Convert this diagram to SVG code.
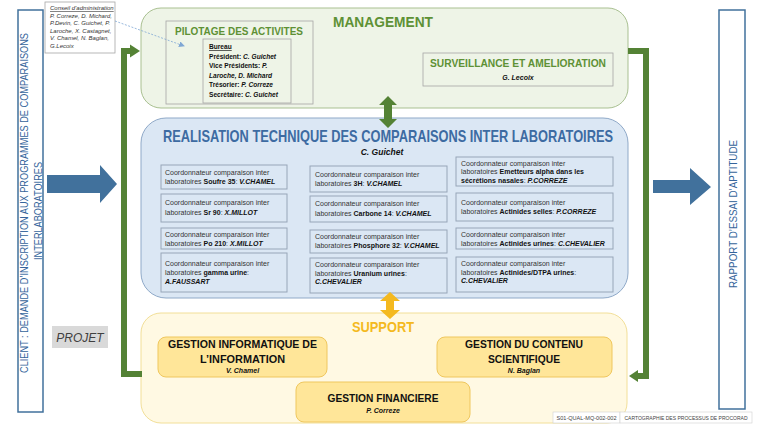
<svg xmlns="http://www.w3.org/2000/svg" width="757" height="426" viewBox="0 0 757 426">
<defs>
<style>
text{font-family:"Liberation Sans",Arial,sans-serif}
.cell{fill:#dbe7f4;stroke:#97a6b8;stroke-width:1}
.ct{font-size:7px;fill:#333}
.b{font-weight:bold;fill:#111}
.bi{font-weight:bold;font-style:italic;fill:#111}
.gb{fill:#ffe699;stroke:#efc75e;stroke-width:1}
.gt{font-size:11px;font-weight:bold;fill:#111;text-anchor:middle}
.gn{font-size:7px;font-weight:bold;font-style:italic;fill:#111;text-anchor:middle}
.grn{fill:none;stroke:#548235;stroke-width:6}
.side{fill:#fff;stroke:#41719c;stroke-width:1.5}
.sidet{font-size:10px;fill:#35659b;text-anchor:middle}
.bur{font-size:6.6px;font-weight:bold;fill:#111}
.con{font-size:6px;font-style:italic;fill:#333}
.ft{font-size:4.8px;fill:#444}
</style>
<marker id="dash-arrow" markerWidth="6" markerHeight="6" refX="5" refY="3" orient="auto" markerUnits="userSpaceOnUse">
<path d="M0,0 L6,3 L0,6 z" fill="#7fa7d4"/>
</marker>
</defs>
<rect width="757" height="426" fill="#fff"/>

<g id="client">
<rect class="side" x="18" y="10" width="25" height="402"/>
<text class="sidet" transform="translate(28,203) rotate(-90)" textLength="340" lengthAdjust="spacingAndGlyphs">CLIENT : DEMANDE D’INSCRIPTION AUX PROGRAMMES DE COMPARAISONS</text>
<text class="sidet" transform="translate(41.5,211) rotate(-90)" textLength="98" lengthAdjust="spacingAndGlyphs">INTERLABORATOIRES</text>
</g>

<g id="rapport">
<rect class="side" x="719" y="10" width="26" height="399"/>
<text class="sidet" transform="translate(736.5,214) rotate(-90)" textLength="148" lengthAdjust="spacingAndGlyphs">RAPPORT D’ESSAI D’APTITUDE</text>
</g>

<g id="conseil">
<rect x="45" y="2" width="70" height="51" fill="#fff" stroke="#a6a6a6" stroke-width="0.8"/>
<text class="con" x="50" y="10" text-decoration="underline">Conseil d’administration</text>
<text class="con" x="50" y="17.5"> P. Correze, D. Michard,</text>
<text class="con" x="50" y="25">P.Devin, C. Guichet, P.</text>
<text class="con" x="50" y="32.5">Laroche, X. Castagnet,</text>
<text class="con" x="50" y="40">V. Chamel, N. Baglan,</text>
<text class="con" x="50" y="47.5">G.Lecoix</text>
</g>

<g id="projet">
<rect x="52" y="326" width="56" height="22" fill="#d9d9d9"/>
<text x="80" y="342" font-size="12" font-style="italic" fill="#404040" text-anchor="middle">PROJET</text>
</g>

<g id="management">
<rect x="141" y="8" width="487" height="100" rx="20" fill="#eef4e7" stroke="#a9c091" stroke-width="1"/>
<text x="383" y="27" font-size="14" font-weight="bold" fill="#5e9135" text-anchor="middle" textLength="100" lengthAdjust="spacingAndGlyphs">MANAGEMENT</text>
</g>

<g id="pilotage">
<rect x="166" y="21" width="147" height="83" fill="none" stroke="#a6a6a6" stroke-width="0.8"/>
<text x="239" y="35" font-size="11" font-weight="bold" fill="#5e9135" text-anchor="middle" textLength="128" lengthAdjust="spacingAndGlyphs">PILOTAGE DES ACTIVITES</text>
<rect x="203" y="39" width="88" height="64" fill="none" stroke="#a6a6a6" stroke-width="0.8"/>
<text class="bur" x="209" y="49" text-decoration="underline">Bureau</text>
<text class="bur" x="209" y="58.5">Président: <tspan font-style="italic">C. Guichet</tspan></text>
<text class="bur" x="209" y="68">Vice Présidents: <tspan font-style="italic">P.</tspan></text>
<text class="bur" x="209" y="77.5" font-style="italic">Laroche, D. Michard</text>
<text class="bur" x="209" y="87">Trésorier: <tspan font-style="italic">P. Correze</tspan></text>
<text class="bur" x="209" y="96.5">Secrétaire: <tspan font-style="italic">C. Guichet</tspan></text>
</g>

<g id="surveillance">
<rect x="423" y="53" width="190" height="33" fill="none" stroke="#a6a6a6" stroke-width="0.8"/>
<text x="518" y="67" font-size="11" font-weight="bold" fill="#5e9135" text-anchor="middle" textLength="176" lengthAdjust="spacingAndGlyphs">SURVEILLANCE ET AMELIORATION</text>
<text x="518" y="79.5" font-size="7" font-weight="bold" font-style="italic" fill="#111" text-anchor="middle">G. Lecoix</text>
</g>

<g id="realisation">
<rect x="141" y="118" width="487" height="180" rx="25" fill="#dbe7f4" stroke="#8fa9c8" stroke-width="1"/>
<text x="388" y="142" font-size="16.5" font-weight="bold" fill="#3d6ba2" text-anchor="middle" textLength="450" lengthAdjust="spacingAndGlyphs">REALISATION TECHNIQUE DES COMPARAISONS INTER LABORATOIRES</text>
<text x="382" y="155" font-size="8.5" font-weight="bold" font-style="italic" fill="#111" text-anchor="middle">C. Guichet</text>
</g>

<g id="cells">
<g id="c-soufre"><rect class="cell" x="161" y="165" width="126" height="24"/>
<text class="ct" x="165" y="175">Coordonnateur comparaison inter</text>
<text class="ct" x="165" y="184">laboratoires <tspan class="b">Soufre 35</tspan>: <tspan class="bi">V.CHAMEL</tspan></text></g>
<g id="c-sr90"><rect class="cell" x="161" y="194" width="126" height="28"/>
<text class="ct" x="165" y="205">Coordonnateur comparaison inter</text>
<text class="ct" x="165" y="215">laboratoires <tspan class="b">Sr 90</tspan>: <tspan class="bi">X.MILLOT</tspan></text></g>
<g id="c-po210"><rect class="cell" x="161" y="228" width="126" height="21"/>
<text class="ct" x="165" y="237">Coordonnateur comparaison inter</text>
<text class="ct" x="165" y="246">laboratoires <tspan class="b">Po 210</tspan>: <tspan class="bi">X.MILLOT</tspan></text></g>
<g id="c-gamma"><rect class="cell" x="161" y="253" width="126" height="39"/>
<text class="ct" x="165" y="266">Coordonnateur comparaison inter</text>
<text class="ct" x="165" y="275">laboratoires <tspan class="b">gamma urine</tspan>:</text>
<text class="ct" x="165" y="284"><tspan class="bi">A.FAUSSART</tspan></text></g>

<g id="c-3h"><rect class="cell" x="310" y="166" width="137" height="26"/>
<text class="ct" x="315" y="177">Coordonnateur comparaison inter</text>
<text class="ct" x="315" y="186">laboratoires <tspan class="b">3H</tspan>: <tspan class="bi">V.CHAMEL</tspan></text></g>
<g id="c-c14"><rect class="cell" x="310" y="196" width="137" height="26"/>
<text class="ct" x="315" y="206">Coordonnateur comparaison inter</text>
<text class="ct" x="315" y="216">laboratoires <tspan class="b">Carbone 14</tspan>: <tspan class="bi">V.CHAMEL</tspan></text></g>
<g id="c-p32"><rect class="cell" x="310" y="230" width="137" height="23"/>
<text class="ct" x="315" y="238.5">Coordonnateur comparaison inter</text>
<text class="ct" x="315" y="247.5">laboratoires <tspan class="b">Phosphore 32</tspan>: <tspan class="bi">V.CHAMEL</tspan></text></g>
<g id="c-uranium"><rect class="cell" x="310" y="258" width="137" height="35"/>
<text class="ct" x="315" y="267">Coordonnateur comparaison inter</text>
<text class="ct" x="315" y="275.5">laboratoires <tspan class="b">Uranium urines</tspan>:</text>
<text class="ct" x="315" y="284"><tspan class="bi">C.CHEVALIER</tspan></text></g>

<g id="c-alpha"><rect class="cell" x="456" y="157" width="157" height="29"/>
<text class="ct" x="461" y="165.5">Coordonnateur comparaison inter</text>
<text class="ct" x="461" y="174">laboratoires <tspan class="b">Emetteurs alpha dans les</tspan></text>
<text class="ct" x="461" y="182.5"><tspan class="b">sécrétions nasales</tspan>:  <tspan class="bi">P.CORREZE</tspan></text></g>
<g id="c-selles"><rect class="cell" x="456" y="193" width="157" height="28"/>
<text class="ct" x="461" y="205">Coordonnateur comparaison inter</text>
<text class="ct" x="461" y="214">laboratoires <tspan class="b">Actinides selles</tspan>:  <tspan class="bi">P.CORREZE</tspan></text></g>
<g id="c-urines"><rect class="cell" x="456" y="228" width="157" height="21"/>
<text class="ct" x="461" y="237">Coordonnateur comparaison inter</text>
<text class="ct" x="461" y="246">laboratoires <tspan class="b">Actinides urines</tspan>:  <tspan class="bi">C.CHEVALIER</tspan></text></g>
<g id="c-dtpa"><rect class="cell" x="456" y="257" width="157" height="35"/>
<text class="ct" x="461" y="266">Coordonnateur comparaison inter</text>
<text class="ct" x="461" y="274.5">laboratoires <tspan class="b">Actinides/DTPA urines</tspan>:</text>
<text class="ct" x="461" y="283"><tspan class="bi">C.CHEVALIER</tspan></text></g>
</g>

<g id="support">
<rect x="141" y="313" width="486" height="110" rx="20" fill="#fff9e3" stroke="#f2df98" stroke-width="1"/>
<text x="383" y="332" font-size="14" font-weight="bold" fill="#f4b920" text-anchor="middle" textLength="62" lengthAdjust="spacingAndGlyphs">SUPPORT</text>
</g>

<g id="gestion-info">
<rect class="gb" x="158" y="337" width="169" height="40" rx="8"/>
<text class="gt" x="242.5" y="348" textLength="149" lengthAdjust="spacingAndGlyphs">GESTION INFORMATIQUE DE</text>
<text class="gt" x="242.5" y="363" textLength="85" lengthAdjust="spacingAndGlyphs">L’INFORMATION</text>
<text class="gn" x="242.5" y="373">V. Chamel</text>
</g>

<g id="gestion-contenu">
<rect class="gb" x="437" y="337" width="175" height="40" rx="8"/>
<text class="gt" x="524" y="348" textLength="118" lengthAdjust="spacingAndGlyphs">GESTION DU CONTENU</text>
<text class="gt" x="524" y="363" textLength="72" lengthAdjust="spacingAndGlyphs">SCIENTIFIQUE</text>
<text class="gn" x="524" y="373">N. Baglan</text>
</g>

<g id="gestion-financiere">
<rect class="gb" x="296" y="382" width="174" height="40" rx="8"/>
<text class="gt" x="383" y="402" textLength="111" lengthAdjust="spacingAndGlyphs">GESTION FINANCIERE</text>
<text class="gn" x="383" y="413">P. Correze</text>
</g>

<g id="footer">
<rect x="553" y="412" width="67" height="11" fill="#fff" stroke="#d0d0d0" stroke-width="0.6"/>
<text class="ft" x="586.5" y="419.5" text-anchor="middle" textLength="60" lengthAdjust="spacingAndGlyphs">S01-QUAL-MQ-002-002</text>
<rect x="620" y="412" width="132" height="11" fill="#fff" stroke="#d0d0d0" stroke-width="0.6"/>
<text class="ft" x="686" y="419.5" text-anchor="middle" textLength="123" lengthAdjust="spacingAndGlyphs">CARTOGRAPHIE DES PROCESSUS DE PROCORAD</text>
</g>

<g id="connectors">
<polygon points="47,175 100,175 100,165 117,184 100,203 100,193 47,193" fill="#41719c"/>
<polygon points="653,180 690,180 690,168 711,187 690,205 690,193 653,193" fill="#41719c"/>
<path class="grn" d="M142,374 H124 V51 H132"/>
<polygon points="140,51 130,44.5 130,57.5" fill="#548235"/>
<path class="grn" d="M628,51 H646 V376 H637"/>
<polygon points="629,376 638,370 638,382" fill="#548235"/>
<polygon points="388,96 397,105 392,105 392,119 397,119 388,128 379,119 384,119 384,105 379,105" fill="#548235"/>
<polygon points="390,292 400,301 394,301 394,310 400,310 390,319 380,310 386,310 386,301 380,301" fill="#f4b920"/>
<line x1="115" y1="21" x2="184" y2="46" stroke="#7fa7d4" stroke-width="0.8" stroke-dasharray="2,1.5" marker-end="url(#dash-arrow)"/>
</g>
</svg>
